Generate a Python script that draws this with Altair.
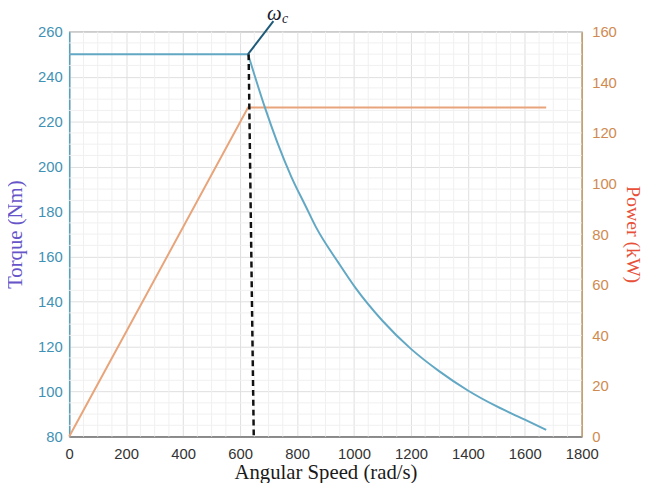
import altair as alt
import pandas as pd

# ---- data ----
flat_w = [0, 628]
flat_T = [250, 250]

curve_w = [628, 650, 688, 730, 780, 830, 867, 947, 1006, 1100, 1200, 1300, 1400, 1500, 1600, 1675]
curve_T = [250, 241, 226, 211, 195.5, 182.5, 173, 157, 146, 131.5, 119, 109, 100.5, 93.5, 87.5, 83]

power_w = [0, 628, 1675]
power_P = [0, 130, 130]

dash_w = [630, 648]
dash_T = [250, 80]

lead_w = [628, 717]
lead_T = [250, 264.7]

label_w = [720, 758]
label_T = [268.0, 265.6]
label_txt = ["ω", "c"]

x_ticks = [0, 200, 400, 600, 800, 1000, 1200, 1400, 1600, 1800]
torque_ticks = [80, 100, 120, 140, 160, 180, 200, 220, 240, 260]
power_ticks = [0, 20, 40, 60, 80, 100, 120, 140, 160]
minor_x = [v for v in range(0, 1801, 50) if v % 200 != 0]
minor_y = [v for v in range(80, 261, 5) if v % 20 != 0]

SANS = "Liberation Sans"
SERIF = "Liberation Serif"
TORQUE_C = "#62a8c4"
POWER_C = "#e8a47a"

xs = alt.Scale(domain=[0, 1800], nice=False, zero=False)
ts = alt.Scale(domain=[80, 260], nice=False, zero=False)
ps = alt.Scale(domain=[0, 160], nice=False, zero=False)

x_axis = alt.Axis(values=x_ticks, format="d", grid=True, gridColor="#dedede", gridWidth=1,
                  ticks=False, labelFont=SANS, labelFontSize=15, labelColor="#333333",
                  labelPadding=10, labelFlush=False, labelOverlap=False,
                  domainColor="#777777", domainWidth=1.5,
                  title="Angular Speed (rad/s)", titleFont=SERIF, titleFontSize=21,
                  titleFontWeight="normal", titleColor="#1a1a1a", titlePadding=0)

t_axis = alt.Axis(values=torque_ticks, grid=True, gridColor="#dedede", gridWidth=1,
                  orient="left", labelFlush=False, labelOverlap=False,
                  ticks=False, labelFont=SANS, labelFontSize=15, labelColor="#3f92b5",
                  labelPadding=7, domainColor="#5aa0b8", domainWidth=1.5,
                  title="Torque (Nm)", titleFont=SERIF, titleFontSize=21,
                  titleFontWeight="normal", titleColor="#6655c8", titlePadding=12)

p_axis = alt.Axis(values=power_ticks, grid=False, orient="right",
                  ticks=False, labelFlush=False, labelOverlap=False,
                  labelFont=SANS, labelFontSize=15, labelColor="#d08a50",
                  labelPadding=10, domainColor="#c8a070", domainWidth=1.5,
                  title="Power (kW)", titleFont=SERIF, titleFontSize=20,
                  titleFontWeight="normal", titleColor="#e8503a", titlePadding=6)


def X(field="w:Q"):
    return alt.X(field, scale=xs, axis=x_axis)


# minor grid
mgx = alt.Chart(pd.DataFrame({"w": minor_x})).mark_rule(color="#f0f0f0", strokeWidth=1).encode(
    x=X(),
    y=alt.YDatum(80, scale=ts, axis=None), y2=alt.Y2Datum(260))
mgy = alt.Chart(pd.DataFrame({"T": minor_y})).mark_rule(color="#f0f0f0", strokeWidth=1).encode(
    y=alt.Y("T:Q", scale=ts, axis=t_axis),
    x=alt.XDatum(0, scale=xs, axis=x_axis), x2=alt.X2Datum(1800))

flat = alt.Chart(pd.DataFrame({"w": flat_w, "T": flat_T})).mark_line(
    color=TORQUE_C, strokeWidth=2).encode(
    x=X(), y=alt.Y("T:Q", scale=ts, axis=None))

power = alt.Chart(pd.DataFrame({"w": power_w, "P": power_P})).mark_line(
    color=POWER_C, strokeWidth=2).encode(
    x=X(), y=alt.Y("P:Q", scale=ps, axis=p_axis))

curve = alt.Chart(pd.DataFrame({"w": curve_w, "T": curve_T})).mark_line(
    color=TORQUE_C, strokeWidth=2, interpolate="monotone").encode(
    x=X(), y=alt.Y("T:Q", scale=ts, axis=None))

dashed = alt.Chart(pd.DataFrame({"w": dash_w, "T": dash_T})).mark_line(
    color="#111111", strokeWidth=2.5, strokeDash=[6, 4]).encode(
    x=X(), y=alt.Y("T:Q", scale=ts, axis=None))

lead = alt.Chart(pd.DataFrame({"w": lead_w, "T": lead_T})).mark_line(
    color="#1d5a78", strokeWidth=2, clip=False).encode(
    x=X(), y=alt.Y("T:Q", scale=ts, axis=None))

lbl_df = pd.DataFrame({"w": label_w, "T": label_T, "s": label_txt, "fs": [21, 14]})
labels = alt.Chart(lbl_df).mark_text(
    font=SERIF, fontStyle="italic", color="#1a1a2e", align="center", baseline="middle",
    clip=False).encode(
    x=X(), y=alt.Y("T:Q", scale=ts, axis=None),
    text="s:N",
    size=alt.Size("fs:Q", scale=None, legend=None))

chart = alt.layer(mgx, mgy, flat, power, curve, dashed, lead, labels).resolve_scale(
    y="independent").properties(
    width=519, height=410,
    autosize=alt.AutoSizeParams(type="none"),
    padding={"left": 62, "top": 21, "right": 63, "bottom": 44},
).configure_view(stroke="#8a8a8a", strokeWidth=1.2)

chart.save("out.html", embed_options={"renderer": "svg", "actions": False})
